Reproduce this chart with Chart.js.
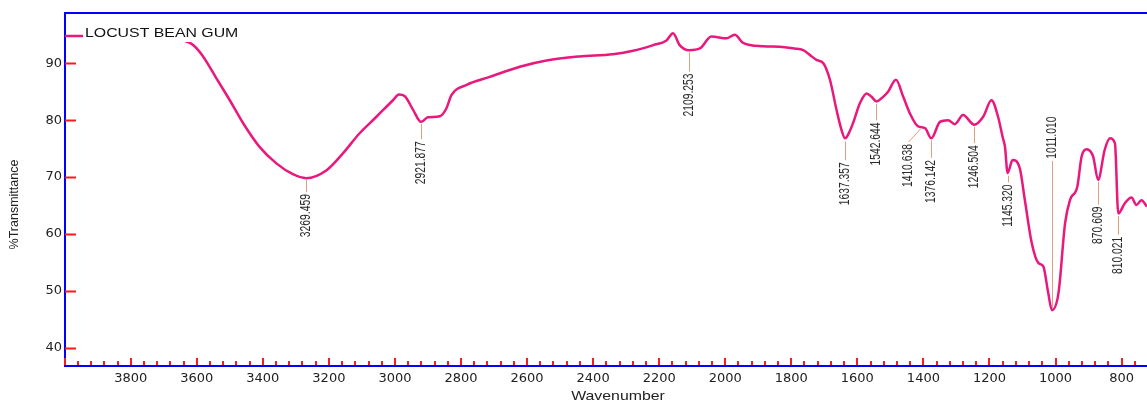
<!DOCTYPE html>
<html>
<head>
<meta charset="utf-8">
<title>Locust bean gum FTIR</title>
<script src="https://cdn.jsdelivr.net/npm/chart.js@4.4.1/dist/chart.umd.min.js"></script>
<style>
  html, body { margin: 0; padding: 0; background: #fff; }
  #wrap { width: 1147px; height: 403px; }
</style>
</head>
<body>
<div id="wrap"><canvas id="ftir" width="1147" height="403"></canvas></div>
<script>
// spectrum (cm-1, %T)
const wavenumbers = [
  4000, 3950, 3850, 3750, 3680, 3643, 3611, 3581, 3541, 3500, 3460, 3410, 3359, 3309, 3269,
  3207, 3157, 3107, 3056, 3006, 2988, 2970, 2945, 2921, 2900, 2864, 2844, 2829, 2783, 2713,
  2622, 2541, 2441, 2340, 2279, 2218, 2178, 2158, 2138, 2109, 2077, 2042, 1996, 1971, 1946,
  1885, 1835, 1790, 1764, 1740, 1724, 1703, 1683, 1663, 1648, 1637, 1625, 1613, 1592, 1572,
  1557, 1542, 1522, 1507, 1483, 1461, 1441, 1416, 1395, 1376, 1350, 1325, 1305, 1280, 1246,
  1219, 1194, 1174, 1160, 1153, 1145, 1130, 1108, 1093, 1072, 1052, 1037, 1022, 1011, 991,
  971, 956, 934, 921, 906, 886, 871, 851, 835, 820, 810, 790, 770, 755, 740, 723
];
const transmittance = [
  94.8, 94.8, 94.7, 94.6, 94.4, 94.1, 93.2, 91.2, 87.4, 83.5, 79.5, 75.3, 72.4, 70.5, 69.8,
  71.2, 74.2, 77.7, 80.6, 83.5, 84.5, 84.2, 81.8, 79.7, 80.5, 80.7, 82.1, 84.4, 86.2, 87.6,
  89.4, 90.5, 91.2, 91.6, 92.2, 93.2, 94.0, 95.3, 93.2, 92.3, 92.6, 94.7, 94.4, 95.0, 93.6,
  93.0, 92.9, 92.6, 92.3, 91.3, 90.6, 90.0, 87.1, 81.8, 78.3, 76.8, 77.8, 79.5, 83.0, 84.7,
  84.1, 83.3, 84.1, 85.0, 87.1, 84.1, 81.2, 78.9, 78.6, 76.8, 79.7, 80.0, 79.3, 80.9, 79.2,
  80.6, 83.5, 80.6, 77.0, 75.3, 70.7, 73.0, 71.5, 66.0, 58.4, 54.9, 54.3, 49.6, 46.6, 49.6,
  61.9, 66.0, 68.3, 73.6, 74.9, 73.6, 69.5, 74.8, 76.8, 75.9, 63.6, 65.4, 66.4, 65.1, 65.9, 64.8
];

// picked peaks
const peakNames = ["3269.459", "2921.877", "2109.253", "1637.357", "1542.644", "1410.638",
  "1376.142", "1246.504", "1145.320", "1011.010", "870.609", "810.021"];
const peakWn = [3269, 2922, 2109, 1637, 1543, 1411, 1376, 1246, 1145, 1011, 871, 810];
const peakT = [69.8, 79.7, 92.3, 76.6, 83.2, 78.8, 76.8, 79.2, 70.6, 46.7, 69.5, 63.5];
const labelWn = [3269, 2922, 2109, 1637, 1543, 1447, 1376, 1246, 1145, 1011, 871, 810];
const labelT = [67.0, 76.3, 88.2, 72.6, 79.6, 75.8, 73.0, 75.6, 68.7, 73.2, 64.8, 59.5];

const xTicks = [3800, 3600, 3400, 3200, 3000, 2800, 2600, 2400, 2200, 2000, 1800, 1600, 1400, 1200, 1000, 800];
const yTicks = [40, 50, 60, 70, 80, 90];

const sampleName = "LOCUST BEAN GUM";
const xTitle = "Wavenumber";
const yTitle = "%Transmittance";

const decor = {
  id: "decor",
  afterDraw(chart) {
    const { ctx, chartArea: a, scales } = chart;
    const x = scales.x, y = scales.y;
    ctx.save();

    // top frame line
    ctx.strokeStyle = "#0000ff";
    ctx.lineWidth = 2;
    ctx.beginPath();
    ctx.moveTo(a.left, a.top);
    ctx.lineTo(a.right, a.top);
    ctx.stroke();

    // red inner tick marks
    ctx.strokeStyle = "#ff1a1a";
    ctx.lineWidth = 2;
    ctx.beginPath();
    yTicks.forEach((v) => {
      const py = Math.round(y.getPixelForValue(v)) + 0.5;
      ctx.moveTo(a.left, py);
      ctx.lineTo(a.left + 11, py);
    });
    for (let v = 4000; v >= x.min; v -= 40) {
      const px = Math.round(x.getPixelForValue(v));
      const len = v % 200 === 0 ? 7 : 4;
      ctx.moveTo(px, a.bottom - 1);
      ctx.lineTo(px, a.bottom - 1 - len);
    }
    ctx.stroke();

    // peak pickers
    ctx.strokeStyle = "#e0a080";
    ctx.lineWidth = 1;
    ctx.fillStyle = "#2a2a2a";
    ctx.font = "12px 'Liberation Sans', Arial, sans-serif";
    ctx.textBaseline = "middle";
    peakNames.forEach((name, i) => {
      const xc = Math.round(x.getPixelForValue(peakWn[i])) + 0.5;
      const yc = y.getPixelForValue(peakT[i]);
      const xl = Math.round(x.getPixelForValue(labelWn[i])) + 0.5;
      const yl = y.getPixelForValue(labelT[i]);
      const above = yl < yc;
      ctx.beginPath();
      if (above) {
        ctx.moveTo(xc, yc - 1);
        ctx.lineTo(xl, yl + 2);
      } else {
        ctx.moveTo(xc, yc + 2);
        ctx.lineTo(xl, yl - 2);
      }
      ctx.stroke();
      ctx.save();
      ctx.translate(xl, yl);
      ctx.rotate(-Math.PI / 2);
      ctx.scale(0.86, 1.15);
      ctx.textAlign = above ? "left" : "right";
      ctx.fillText(name, 0, 0);
      ctx.restore();
    });

    // sample name box
    ctx.fillStyle = "#fff";
    ctx.fillRect(a.left + 18, a.top + 11, 165, 18);
    ctx.fillStyle = "#111";
    ctx.font = "13px 'Liberation Sans', Arial, sans-serif";
    ctx.textAlign = "left";
    ctx.save();
    ctx.translate(a.left + 20, a.top + 20);
    ctx.scale(1.22, 1);
    ctx.fillText(sampleName, 0, 0);
    ctx.restore();

    // axis titles
    ctx.fillStyle = "#222";
    ctx.textAlign = "center";
    ctx.save();
    ctx.translate((a.left + a.right) / 2 + 12, chart.height - 7);
    ctx.scale(1.22, 1);
    ctx.fillText(xTitle, 0, 0);
    ctx.restore();

    ctx.save();
    ctx.translate(15, (a.top + a.bottom) / 2 + 15);
    ctx.rotate(-Math.PI / 2);
    ctx.font = "12.5px 'Liberation Sans', Arial, sans-serif";
    ctx.fillText(yTitle, 0, 0);
    ctx.restore();

    ctx.restore();
  },
};

const tickFont = { family: "'DejaVu Sans', sans-serif", size: 13 };

new Chart(document.getElementById("ftir"), {
  type: "line",
  data: {
    datasets: [
      {
        data: wavenumbers.map((w, i) => ({ x: w, y: transmittance[i] })),
        borderColor: "#e8187c",
        borderWidth: 2.5,
        pointRadius: 0,
        cubicInterpolationMode: "monotone",
        fill: false,
      },
    ],
  },
  options: {
    responsive: false,
    animation: false,
    layout: { padding: { top: 13, right: 0, left: 0, bottom: 0 } },
    plugins: { legend: { display: false }, tooltip: { enabled: false } },
    scales: {
      x: {
        type: "linear",
        reverse: true,
        min: 723,
        max: 3999,
        afterFit(s) { s.height = 37; },
        afterBuildTicks(s) { s.ticks = xTicks.map((v) => ({ value: v })); },
        grid: { display: false, drawTicks: false },
        border: { color: "#0000ff", width: 2 },
        ticks: {
          color: "#222", font: tickFont, padding: 5, maxRotation: 0, autoSkip: false,
          callback: (v) => String(v),
        },
      },
      y: {
        min: 36.78,
        max: 98.84,
        afterFit(s) { s.width = 65; },
        afterBuildTicks(s) { s.ticks = yTicks.map((v) => ({ value: v })); },
        grid: { display: false, drawTicks: false },
        border: { color: "#0000ff", width: 2 },
        ticks: { color: "#222", font: tickFont, padding: 3, callback: (v) => String(v) },
      },
    },
  },
  plugins: [decor],
});
</script>
</body>
</html>
